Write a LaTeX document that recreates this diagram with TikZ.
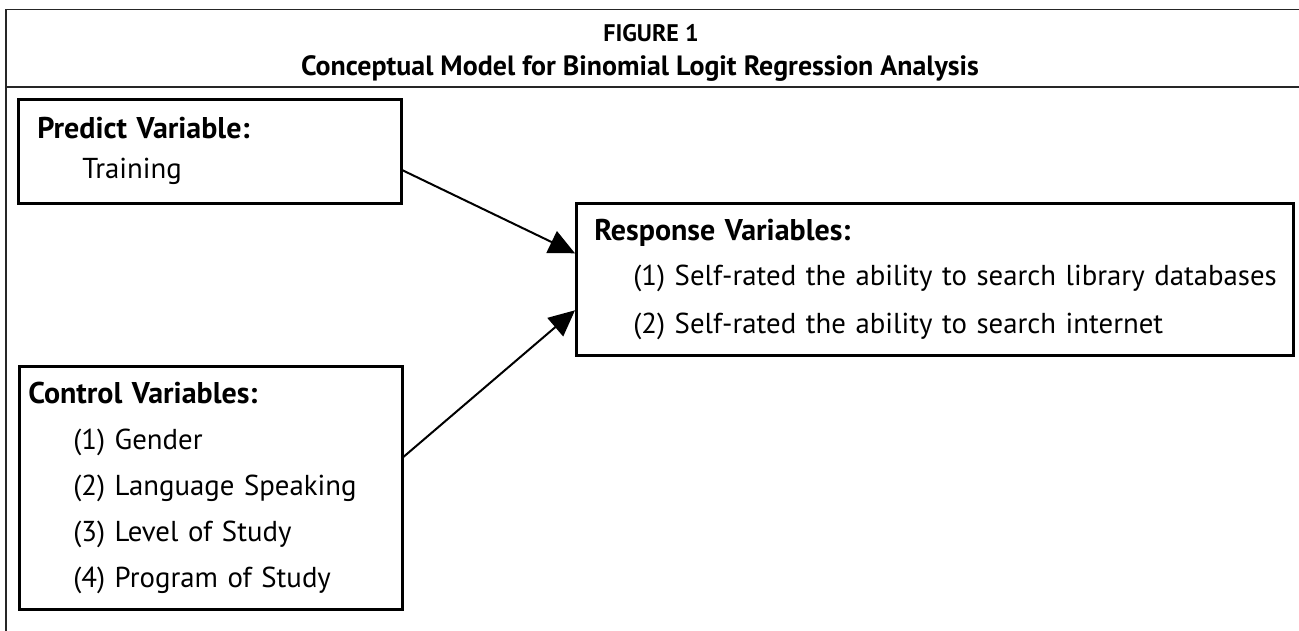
\documentclass[tikz,border=0pt]{standalone}
\usepackage{fontspec}
\setmainfont{PT Sans}
\usetikzlibrary{arrows.meta}
\usetikzlibrary{positioning}

\tikzset{
  varbox/.style={draw,line width=2.6pt,anchor=north west,align=left,
    inner ysep=0pt,font=\fontsize{28.8}{30}\selectfont},
  link/.style={line width=2pt,-{Triangle[length=26pt,width=24pt]}},
  frameline/.style={line width=1.6pt,black!85}
}

\newcommand{\vhead}[1]{{\fontsize{30}{30}\selectfont\bfseries #1}}
\newcommand{\vitem}[2][45pt]{\mbox{\hspace*{#1}#2}}

\begin{document}
\begin{tikzpicture}[x=1pt,y=-1pt]
  \useasboundingbox (0,0) rectangle (1299,631);
  % frame and title
  \draw[frameline] (1299,9.5) -| (6,631);
  \draw[frameline] (6,87) -- (1299,87);
  \node[anchor=base,font=\fontsize{24}{30}\selectfont\bfseries] (fignum) at (651,42) {FIGURE 1};
  \node[anchor=base,font=\fontsize{27.9}{30}\selectfont\bfseries] (figtitle) at (640,76)
    {Conceptual Model for Binomial Logit Regression Analysis};

  % variable boxes
  \node[varbox,inner xsep=19pt,text width=345pt,minimum height=104pt] (predict) at (17,98)
    {\vhead{Predict Variable:}\\[10pt]
     \vitem{Training}};
  \node[varbox,inner xsep=9pt,text width=365pt,minimum height=243pt] (control) at (18,365)
    {\vhead{Control Variables:}\\[16pt]
     \vitem{(1) Gender}\\[16pt]
     \vitem{(2) Language Speaking}\\[16pt]
     \vitem{(3) Level of Study}\\[16pt]
     \vitem{(4) Program of Study}};
  \node[varbox,inner xsep=18pt,text width=681pt,minimum height=152pt] (response) at (575,202)
    {\vhead{Response Variables:}\\[15pt]
     \vitem[39pt]{(1) Self-rated the ability to search library databases}\\[18pt]
     \vitem[39pt]{(2) Self-rated the ability to search internet}};

  % arrows
  \draw[link] ([yshift=-19pt]predict.east) -- ([yshift=26pt]response.west);
  \draw[link] ([yshift=31pt]control.east) -- ([yshift=-31pt]response.west);
\end{tikzpicture}
\end{document}
